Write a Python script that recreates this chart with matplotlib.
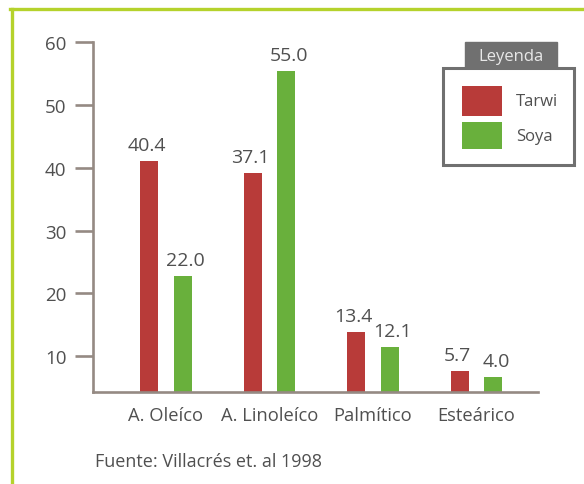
import matplotlib
import matplotlib.pyplot as plt
import numpy as np
from matplotlib.patches import Rectangle
from matplotlib.lines import Line2D

plt.switch_backend("agg")
plt.rcParams["font.family"] = ["Open Sans", "DejaVu Sans"]

# data (bar heights as drawn, labels as printed)
CATEGORIES = ["A. Oleíco", "A. Linoleíco", "Palmítico", "Esteárico"]
TARWI = [41.0, 39.1, 13.8, 7.6]
SOYA = [22.7, 55.4, 11.4, 6.65]
TARWI_LABELS = ["40.4", "37.1", "13.4", "5.7"]
SOYA_LABELS = ["22.0", "55.0", "12.1", "4.0"]
Y_TICKS = [10, 20, 30, 40, 50, 60]

RED = "#b83b39"
GREEN = "#69b03c"
AXIS_COLOR = "#958a83"
TEXT_COLOR = "#505050"
BORDER_GREEN = "#b5d22c"

W, H = 584, 485


def fx(px):
    return px / W


def fy(py):
    return 1 - py / H


fig = plt.figure(figsize=(W / 100, H / 100), dpi=100)
fig.patch.set_facecolor("white")

# green frame (left and top only, the image is cropped)
fig.add_artist(Line2D([fx(11.5), fx(11.5)], [fy(9.5), 0], transform=fig.transFigure,
                      color=BORDER_GREEN, linewidth=2.4))
fig.add_artist(Line2D([fx(10), 1], [fy(9.5), fy(9.5)], transform=fig.transFigure,
                      color=BORDER_GREEN, linewidth=2.4))

ax = fig.add_axes([fx(93), fy(393), fx(538) - fx(93), fy(43) - fy(393)])
ax.set_facecolor("none")

x = np.arange(len(CATEGORIES))
width = 0.174
offset = 0.16
ax.bar(x - offset, TARWI, width, bottom=0, color=RED, zorder=2)
ax.bar(x + offset, SOYA, width, bottom=0, color=GREEN, zorder=2)

for xi, h, lab in zip(x - offset, TARWI, TARWI_LABELS):
    ax.annotate(lab, (xi, h), xytext=(-2, 5), textcoords="offset points",
                ha="center", va="bottom", fontsize=14, color=TEXT_COLOR)
for xi, h, lab in zip(x + offset, SOYA, SOYA_LABELS):
    ax.annotate(lab, (xi, h), xytext=(2, 5), textcoords="offset points",
                ha="center", va="bottom", fontsize=14, color=TEXT_COLOR)

ax.set_xlim(-0.705, 3.594)
ax.set_ylim(4.3, 60)
ax.set_yticks(Y_TICKS)
ax.set_yticklabels([str(t) for t in Y_TICKS])
ax.set_xticks(x)
ax.set_xticklabels(CATEGORIES)

ax.tick_params(axis="y", direction="out", length=13, width=1.9, color=AXIS_COLOR,
               pad=6, labelsize=13.5, labelcolor=TEXT_COLOR)
ax.tick_params(axis="x", length=0, pad=10, labelsize=13.2, labelcolor=TEXT_COLOR)

for side in ["top", "right"]:
    ax.spines[side].set_visible(False)
for side in ["left", "bottom"]:
    ax.spines[side].set_color(AXIS_COLOR)
    ax.spines[side].set_linewidth(1.9)

# legend box with title tab
fig.add_artist(Rectangle((fx(465), fy(69)), fx(557) - fx(465), fy(43) - fy(69),
                         transform=fig.transFigure, facecolor="#707070", edgecolor="#707070"))
fig.text(fx(511), fy(57), "Leyenda", ha="center", va="center", fontsize=12, color="#e8e8e8")
fig.add_artist(Rectangle((fx(443), fy(166)), fx(574) - fx(443), fy(69) - fy(166),
                         transform=fig.transFigure, facecolor="white", edgecolor="#707070",
                         linewidth=2.2))
fig.add_artist(Rectangle((fx(462), fy(117)), fx(502) - fx(462), fy(87) - fy(117),
                         transform=fig.transFigure, facecolor=RED, edgecolor="none"))
fig.add_artist(Rectangle((fx(462), fy(150)), fx(502) - fx(462), fy(123) - fy(150),
                         transform=fig.transFigure, facecolor=GREEN, edgecolor="none"))
fig.text(fx(516), fy(102), "Tarwi", ha="left", va="center", fontsize=12, color=TEXT_COLOR)
fig.text(fx(516), fy(137), "Soya", ha="left", va="center", fontsize=12, color=TEXT_COLOR)

fig.text(fx(95), fy(462), "Fuente: Villacrés et. al 1998", ha="left", va="center",
         fontsize=13, color=TEXT_COLOR)

fig.savefig("out.png", dpi=100)
